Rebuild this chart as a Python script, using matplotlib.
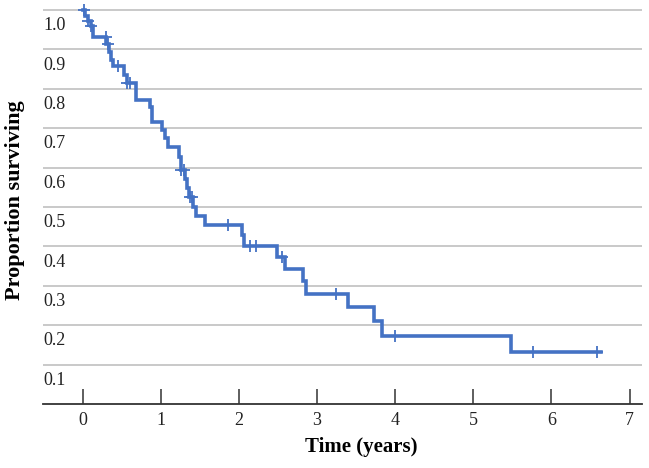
import matplotlib
matplotlib.use("Agg")
import matplotlib.pyplot as plt
import matplotlib.transforms as mtransforms
import numpy as np

# Kaplan-Meier style survival curve
event_times = [0.0, 0.03, 0.067, 0.105, 0.134, 0.303, 0.335, 0.361, 0.387,
               0.528, 0.56, 0.675, 0.86, 0.882, 1.01, 1.052, 1.095, 1.236,
               1.254, 1.309, 1.338, 1.364, 1.415, 1.443, 1.558, 2.035, 2.058,
               2.49, 2.589, 2.816, 2.858, 3.40, 3.732, 3.827, 5.483]
survival = [1.0, 0.985, 0.972, 0.958, 0.931, 0.913, 0.893, 0.874, 0.857,
            0.835, 0.814, 0.771, 0.753, 0.715, 0.695, 0.674, 0.653, 0.627,
            0.593, 0.572, 0.547, 0.525, 0.50, 0.478, 0.453, 0.428, 0.401,
            0.374, 0.342, 0.312, 0.279, 0.245, 0.211, 0.173, 0.131]
end_time = 6.63
censor_times = [0.01, 0.07, 0.11, 0.293, 0.32, 0.447, 0.57, 0.61, 1.26, 1.30,
                1.37, 1.40, 1.863, 2.141, 2.218, 2.547, 3.242, 3.997, 5.76, 6.588]

ytick_vals = [0.1, 0.2, 0.3, 0.4, 0.5, 0.6, 0.7, 0.8, 0.9, 1.0]
xtick_vals = [0, 1, 2, 3, 4, 5, 6, 7]

blue = "#4472C4"
serif = ["Liberation Serif", "DejaVu Serif"]
plt.rcParams["font.family"] = serif

fig = plt.figure(figsize=(6.49, 4.68), dpi=100)
ax = fig.add_axes([43 / 649, 1 - 404 / 468, 599 / 649, 402 / 468])

t = np.array(event_times)
s = np.array(survival)
ax.step(np.append(t, end_time), np.append(s, s[-1]), where="post",
        color=blue, lw=2.6, solid_joinstyle="miter", zorder=3)

ct = np.array(censor_times)
cs = s[np.searchsorted(t, ct, side="right") - 1]
ax.plot(ct, cs, ls="none", marker="+", ms=8, mew=1.3, color=blue, zorder=4)

ax.set_xlim(-0.51, 7.16)
ax.set_ylim(0, 1.02)

# gridlines, labels sit just under each line inside the plot
for v in ytick_vals:
    ax.axhline(v, color="#C0C0C0", lw=1.2, zorder=1)
ax.set_yticks([])
trans = mtransforms.blended_transform_factory(ax.transAxes, ax.transData)
for v in ytick_vals:
    ax.text(0.0, v - 0.04, "%.1f" % v, transform=trans, ha="left", va="center",
            fontsize=13, color="#222222")

for side in ["top", "right", "left"]:
    ax.spines[side].set_visible(False)
ax.spines["bottom"].set_color("#333333")
ax.spines["bottom"].set_linewidth(1.3)

ax.set_xticks(xtick_vals)
ax.set_xticklabels([str(v) for v in xtick_vals])
ax.tick_params(axis="x", direction="in", length=11, width=1.1, color="#333333",
               pad=6, labelsize=13, labelcolor="#222222")

fig.text(361 / 649, 1 - 447 / 468, "Time (years)", ha="center", va="center",
         fontsize=15, fontweight="bold")
fig.text(15 / 649, 1 - 200 / 468, "Proportion surviving", ha="center", va="center",
         rotation=90, fontsize=16, fontweight="bold")

fig.savefig("out.png", dpi=100)
